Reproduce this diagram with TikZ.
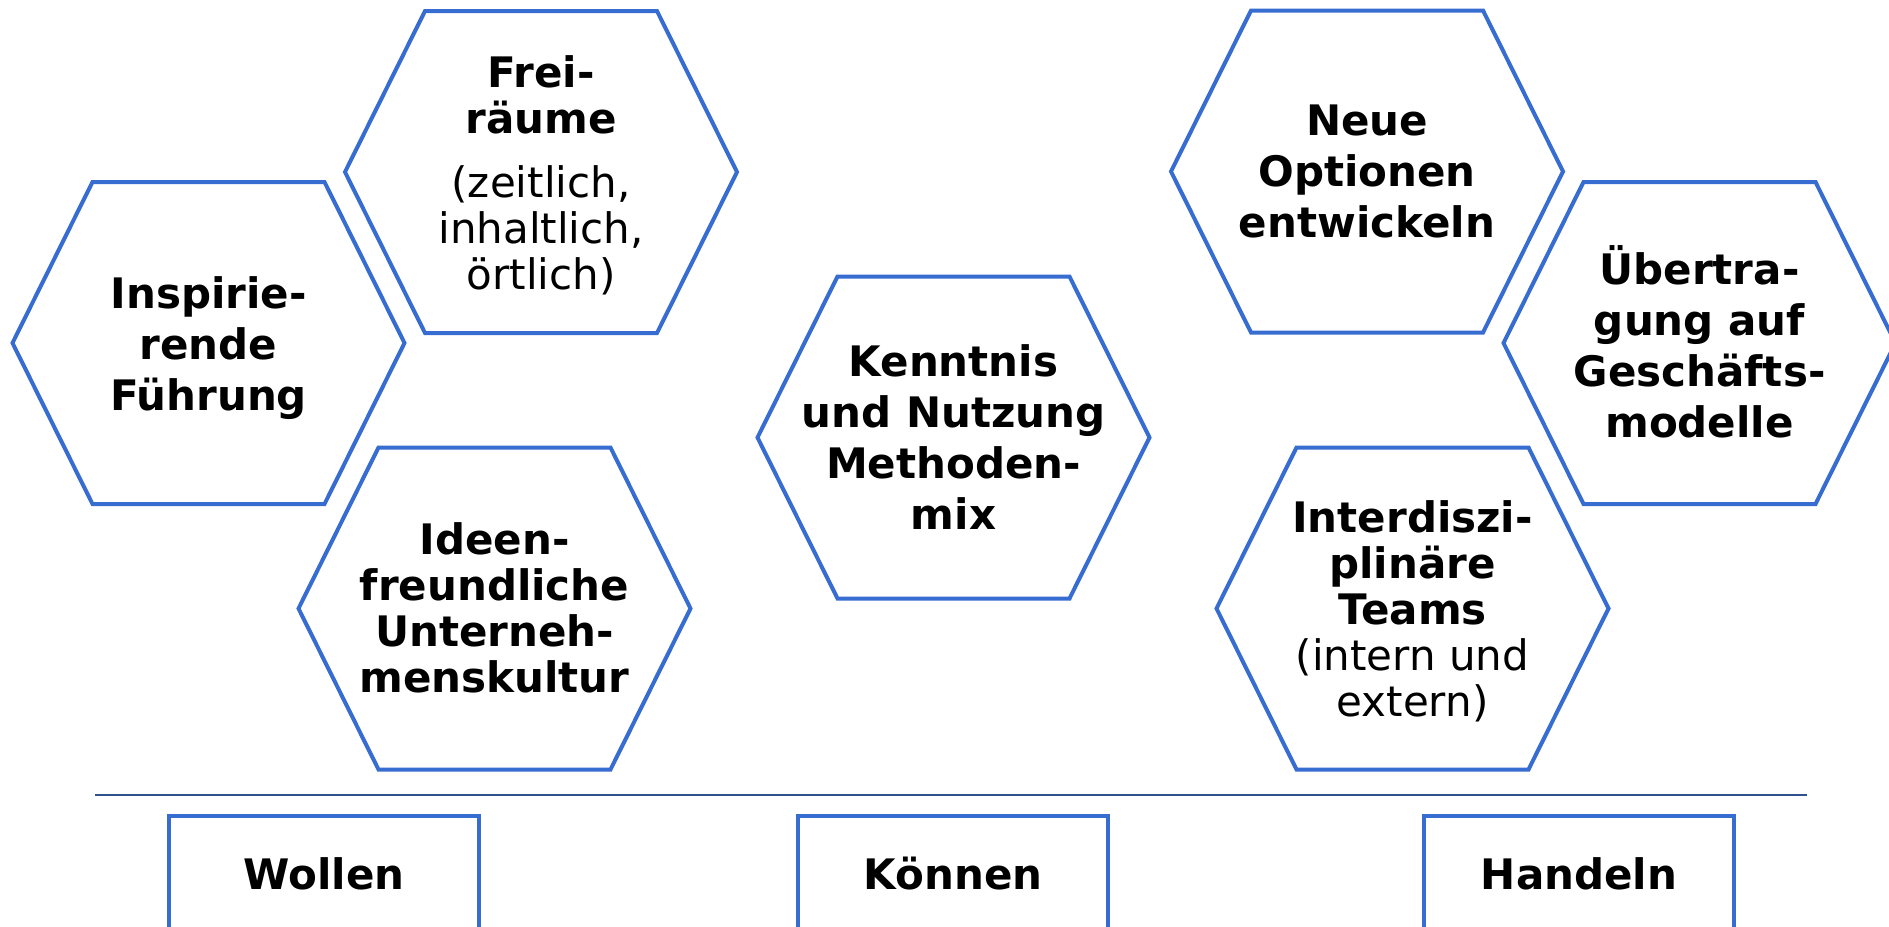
\documentclass[tikz,border=0pt]{standalone}
\usepackage{fontspec}
\setmainfont{DejaVu Sans}
\usepackage[usenames,dvipsnames]{xcolor}
\definecolor{hexblue}{RGB}{55,108,208}
\definecolor{lineblue}{RGB}{47,82,143}

\begin{document}
\begin{tikzpicture}[x=1pt,y=-1pt,
  hexline/.style={draw=hexblue,line width=4pt},
  hextext/.style={align=center,font=\fontsize{42}{51}\selectfont\bfseries},
  tight/.style={font=\fontsize{42}{46}\selectfont\bfseries},
  boxnode/.style={draw=hexblue,line width=4pt,minimum width=310,minimum height=116,
    font=\fontsize{42}{51}\selectfont\bfseries}]
\useasboundingbox (0,0) rectangle (1889,926);
\foreach \n/\cx/\cy in {ins/208.5/343,frei/541/172,ideen/494.5/608.5,kenn/953.5/437.5,
    neue/1367/171.5,ueber/1699.5/343,inter/1412.5/608.5}{
  \coordinate (\n) at (\cx,\cy);
  \draw[hexline] (\cx-196,\cy) -- ++(80,-161) -- ++(232,0) -- ++(80,161)
    -- ++(-80,161) -- ++(-232,0) -- cycle;
}
\node[hextext] (insT) at ([yshift=-5pt]ins) {Inspirie-\\rende\\Führung};
\node[hextext,tight] (freiT) at ([yshift=-3pt]frei) {Frei-\\räume\\[18pt]\mdseries (zeitlich,\\\mdseries inhaltlich,\\\mdseries örtlich)};
\node[hextext,tight] (ideenT) at ([yshift=1pt]ideen) {Ideen-\\freundliche\\Unterneh-\\menskultur};
\node[hextext] (kennT) at (kenn) {Kenntnis\\und Nutzung\\Methoden-\\mix};
\node[hextext] (neueT) at (neue) {Neue\\Optionen\\entwickeln};
\node[hextext] (ueberT) at ([yshift=1pt]ueber) {Übertra-\\gung auf\\Geschäfts-\\modelle};
\node[hextext,tight] (interT) at ([yshift=-3pt]inter) {Interdiszi-\\plinäre\\Teams\\\mdseries (intern und\\\mdseries extern)};
\coordinate (sepL) at (95,795);
\coordinate (sepR) at (1807,795);
\draw[lineblue,line width=2pt] (sepL) -- (sepR);
\node[boxnode] (wollen) at (324,874) {Wollen};
\node[boxnode] (koennen) at (953,874) {Können};
\node[boxnode] (handeln) at (1579,874) {Handeln};
\end{tikzpicture}
\end{document}
